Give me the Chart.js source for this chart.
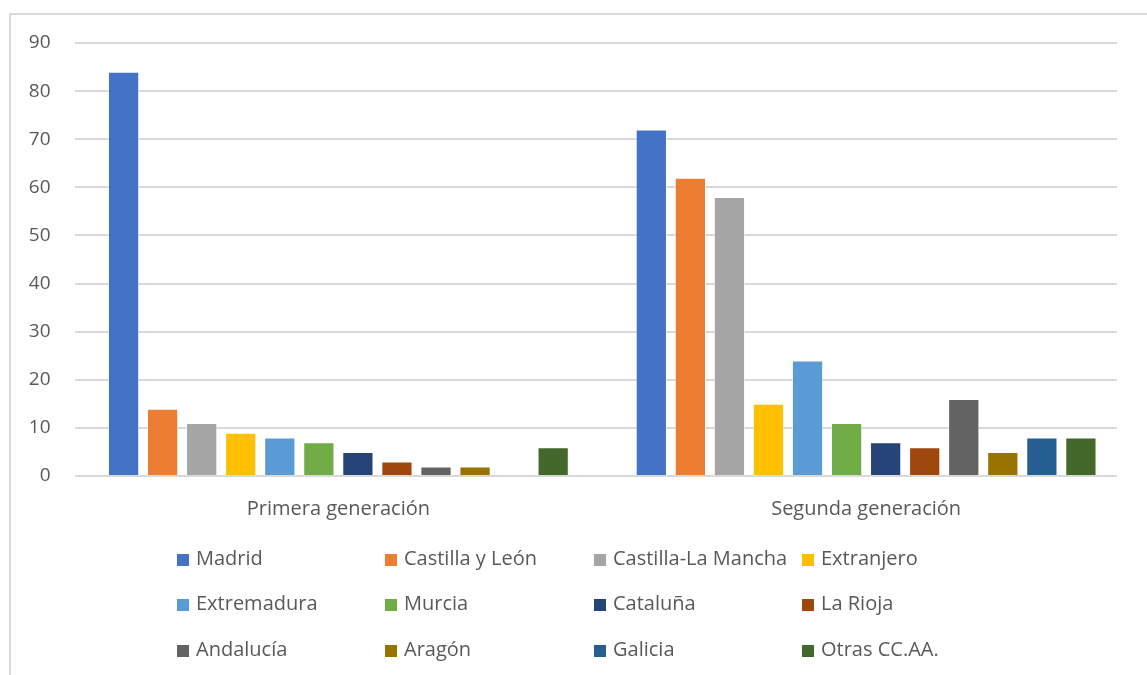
<!DOCTYPE html>
<html lang="es">
<head>
<meta charset="UTF-8">
<title>Lugar de origen por generación</title>
<script src="https://cdn.jsdelivr.net/npm/chart.js"></script>
<style>
  html, body { margin: 0; padding: 0; background: #fff; }
  #wrap { position: relative; width: 1147px; height: 675px; overflow: hidden; }
  #frame { position: absolute; left: 9px; top: 13px; right: -5px; bottom: -5px;
           border-top: 2px solid #d9d9d9; border-left: 2px solid #d9d9d9; }
  canvas { position: absolute; left: 0; top: 0; }
</style>
</head>
<body>
<div id="wrap">
  <div id="frame"></div>
  <canvas id="chart" width="1147" height="675"></canvas>
</div>
<script>
  // datos
  const categories = ['Primera generación', 'Segunda generación'];
  const regions = ['Madrid', 'Castilla y León', 'Castilla-La Mancha', 'Extranjero',
                   'Extremadura', 'Murcia', 'Cataluña', 'La Rioja',
                   'Andalucía', 'Aragón', 'Galicia', 'Otras CC.AA.'];
  const primera = [84, 14, 11, 9, 8, 7, 5, 3, 2, 2, 0, 6];
  const segunda = [72, 62, 58, 15, 24, 11, 7, 6, 16, 5, 8, 8];
  const yTicks = [0, 10, 20, 30, 40, 50, 60, 70, 80, 90];

  const colors = ['#4472C4', '#ED7D31', '#A5A5A5', '#FFC000', '#5B9BD5', '#70AD47',
                  '#264478', '#9E480E', '#636363', '#997300', '#255E91', '#43682B'];

  const textColor = '#595959';
  const fontFamily = '"Open Sans", "Liberation Sans", sans-serif';

  // las líneas de cuadrícula del original acaban un poco antes del borde derecho
  const gridTrim = {
    id: 'gridTrim',
    beforeDatasetsDraw(chart) {
      const a = chart.chartArea;
      const ctx = chart.ctx;
      ctx.save();
      ctx.fillStyle = '#fff';
      ctx.fillRect(a.right - 13, a.top - 3, 20, a.bottom - a.top + 6);
      ctx.restore();
    }
  };

  // leyenda en rejilla de 4 columnas, como en Excel
  const gridLegend = {
    id: 'gridLegend',
    afterDraw(chart) {
      const ctx = chart.ctx;
      const colX = [177, 385, 594, 802];
      const rowY = [559, 604, 650];
      ctx.save();
      ctx.font = '20px ' + fontFamily;
      ctx.textBaseline = 'middle';
      ctx.textAlign = 'left';
      chart.data.datasets.forEach((ds, i) => {
        const x = colX[i % 4];
        const y = rowY[Math.floor(i / 4)];
        ctx.fillStyle = ds.backgroundColor;
        ctx.fillRect(x, y - 5, 12, 12);
        ctx.fillStyle = textColor;
        ctx.fillText(ds.label, x + 19, y);
      });
      ctx.restore();
    }
  };

  const datasets = regions.map((name, i) => ({
    label: name,
    data: [primera[i], segunda[i]],
    backgroundColor: colors[i],
    borderColor: 'rgba(255,255,255,0.6)',
    borderWidth: 1,
    barPercentage: 0.8,
    categoryPercentage: 0.888
  }));

  new Chart(document.getElementById('chart'), {
    type: 'bar',
    data: { labels: categories, datasets: datasets },
    plugins: [gridTrim, gridLegend],
    options: {
      responsive: false,
      animation: false,
      layout: { padding: { top: 43, right: 17, bottom: 149, left: 0 } },
      plugins: {
        legend: { display: false },
        tooltip: { enabled: false }
      },
      scales: {
        x: {
          grid: { display: false },
          border: { display: false },
          ticks: { color: textColor, font: { size: 20, family: fontFamily }, padding: 13 },
          afterFit: s => { s.height = 50; }
        },
        y: {
          min: 0,
          max: 90,
          afterBuildTicks: s => { s.ticks = yTicks.map(v => ({ value: v })); },
          grid: { color: '#d9d9d9', lineWidth: 2, drawTicks: false },
          border: { display: false },
          ticks: { color: textColor, font: { size: 19, family: fontFamily }, padding: 24 },
          afterFit: s => { s.width = 74.5; }
        }
      }
    }
  });
</script>
</body>
</html>
